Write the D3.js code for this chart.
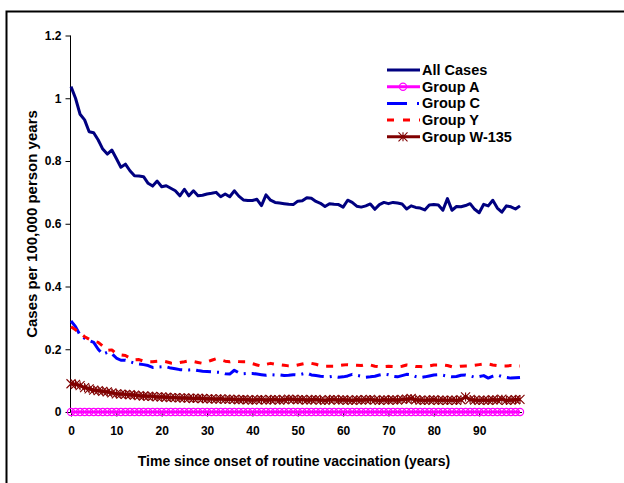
<!DOCTYPE html>
<html><head><meta charset="utf-8">
<script src="https://cdn.jsdelivr.net/npm/d3@7"></script>
<style>body{margin:0;background:#fff}svg{display:block}text{font-family:Arial,"Liberation Sans",sans-serif;font-weight:bold}</style>
</head><body>
<svg id="c" width="624" height="483"></svg>
<script>
const years = d3.range(0, 100);
const xTicks = [0,10,20,30,40,50,60,70,80,90];
const yTicks = [0,0.2,0.4,0.6,0.8,1,1.2];
const seriesNames = ["All Cases","Group A","Group C","Group Y","Group W-135"];
const allCases = [1.037,1.000,0.949,0.931,0.893,0.890,0.867,0.838,0.822,0.835,
0.808,0.780,0.790,0.769,0.753,0.752,0.750,0.729,0.720,0.736,
0.718,0.721,0.713,0.705,0.689,0.710,0.689,0.705,0.689,0.691,
0.695,0.697,0.700,0.686,0.695,0.686,0.705,0.688,0.676,0.674,
0.674,0.678,0.658,0.692,0.675,0.668,0.666,0.664,0.662,0.661,
0.672,0.673,0.683,0.681,0.671,0.665,0.655,0.664,0.662,0.661,
0.653,0.675,0.668,0.656,0.653,0.657,0.663,0.646,0.661,0.668,
0.664,0.668,0.666,0.663,0.647,0.657,0.652,0.650,0.644,0.660,
0.661,0.660,0.643,0.680,0.643,0.655,0.654,0.658,0.664,0.646,
0.635,0.662,0.657,0.675,0.650,0.637,0.657,0.654,0.647,0.657];
const groupA = [0,0,0,0,0,0,0,0,0,0,0,0,0,0,0,0,0,0,0,0,
0,0,0,0,0,0,0,0,0,0,0,0,0,0,0,0,0,0,0,0,
0,0,0,0,0,0,0,0,0,0,0,0,0,0,0,0,0,0,0,0,
0,0,0,0,0,0,0,0,0,0,0,0,0,0,0,0,0,0,0,0,
0,0,0,0,0,0,0,0,0,0,0,0,0,0,0,0,0,0,0,0];
const groupC = [0.290,0.272,0.245,0.235,0.228,0.222,0.200,0.184,0.190,0.186,
0.172,0.165,0.165,0.160,0.156,0.153,0.151,0.148,0.142,0.143,
0.144,0.144,0.140,0.138,0.135,0.134,0.134,0.135,0.132,0.130,
0.129,0.128,0.127,0.126,0.122,0.121,0.133,0.125,0.122,0.123,
0.123,0.121,0.119,0.117,0.119,0.118,0.118,0.116,0.117,0.119,
0.118,0.121,0.124,0.118,0.116,0.114,0.113,0.112,0.114,0.111,
0.112,0.115,0.120,0.117,0.114,0.111,0.112,0.114,0.118,0.121,
0.119,0.114,0.112,0.116,0.120,0.119,0.113,0.110,0.112,0.115,
0.118,0.119,0.117,0.114,0.112,0.113,0.117,0.118,0.115,0.111,
0.113,0.116,0.108,0.114,0.118,0.113,0.110,0.108,0.109,0.110];
const groupY = [0.272,0.262,0.252,0.240,0.232,0.226,0.222,0.210,0.196,0.198,
0.185,0.182,0.180,0.172,0.166,0.167,0.162,0.160,0.160,0.162,
0.163,0.160,0.156,0.155,0.158,0.160,0.163,0.161,0.158,0.155,
0.160,0.165,0.170,0.166,0.162,0.160,0.163,0.161,0.160,0.160,
0.154,0.150,0.146,0.152,0.155,0.152,0.151,0.149,0.147,0.147,
0.150,0.153,0.156,0.155,0.152,0.148,0.146,0.146,0.146,0.148,
0.150,0.151,0.150,0.149,0.148,0.151,0.150,0.146,0.144,0.145,
0.146,0.145,0.144,0.146,0.150,0.148,0.145,0.145,0.144,0.147,
0.150,0.150,0.150,0.148,0.144,0.144,0.146,0.147,0.147,0.149,
0.151,0.153,0.153,0.150,0.148,0.147,0.147,0.148,0.147,0.147];
const groupW = [0.090,0.088,0.084,0.078,0.074,0.070,0.068,0.066,0.064,0.061,
0.058,0.057,0.056,0.055,0.054,0.052,0.051,0.050,0.050,0.048,
0.048,0.047,0.046,0.046,0.045,0.045,0.044,0.043,0.044,0.043,
0.042,0.042,0.041,0.042,0.040,0.041,0.040,0.039,0.040,0.039,
0.038,0.039,0.040,0.038,0.039,0.040,0.038,0.039,0.041,0.040,
0.039,0.040,0.038,0.039,0.040,0.038,0.037,0.039,0.040,0.038,
0.039,0.038,0.037,0.039,0.038,0.039,0.040,0.038,0.037,0.039,
0.038,0.039,0.038,0.040,0.041,0.043,0.039,0.038,0.037,0.038,
0.039,0.037,0.038,0.037,0.038,0.037,0.039,0.048,0.040,0.038,
0.037,0.038,0.037,0.039,0.038,0.041,0.037,0.038,0.039,0.040];

const svg = d3.select("#c");
// outer frame (cropped)
svg.append("rect").attr("x",6.5).attr("y",11.5).attr("width",700).attr("height",600)
  .attr("fill","none").attr("stroke","#000").attr("stroke-width",2);

const x = d3.scaleLinear().domain([0,99]).range([71,520]);
const y = d3.scaleLinear().domain([0,1.2]).range([412,35.5]);

// y axis
const gy = svg.append("g").attr("transform","translate(70.5,0)")
  .call(d3.axisLeft(y).tickValues(yTicks).tickSize(5).tickPadding(4).tickFormat(d3.format("")));
gy.select(".domain").attr("stroke","#000").attr("d","M0,"+y(1.2)+"V"+y(0));
gy.selectAll("text").attr("font-size","12px").attr("fill","#000");
// x axis
const gx = svg.append("g").attr("transform","translate(0,412.5)")
  .call(d3.axisBottom(x).tickValues(xTicks).tickSize(4).tickPadding(10).tickFormat(d3.format("")));
gx.select(".domain").attr("d","M70.5,0H522");
gx.selectAll("text").attr("font-size","12px").attr("fill","#000");

svg.append("text").attr("transform","translate(37,224) rotate(-90)").attr("text-anchor","middle")
  .attr("font-size","15px").text("Cases per 100,000 person years");
svg.append("text").attr("x",294).attr("y",466).attr("text-anchor","middle")
  .attr("font-size","14px").text("Time since onset of routine vaccination (years)");

const line = d3.line().x((d,i)=>x(years[i])).y(d=>y(d));
const styles = [
  {data:allCases,color:"#000080",dash:null},
  {data:groupA,color:"#FF00FF",dash:null,marker:"circle"},
  {data:groupC,color:"#0000FF",dash:"15,6,2,6"},
  {data:groupY,color:"#FF0000",dash:"7,8"},
  {data:groupW,color:"#800000",dash:null,marker:"star"}
];
const starPath = s => `M${-s},${-s}L${s},${s}M${-s},${s}L${s},${-s}M0,${-s}L0,${s}`;
styles.forEach(st=>{
  svg.append("path").datum(st.data).attr("d",line).attr("fill","none")
    .attr("stroke",st.color).attr("stroke-width",3).attr("stroke-linejoin","round")
    .attr("stroke-dasharray",st.dash);
  if(st.marker==="circle"){
    svg.append("g").selectAll("circle").data(st.data).join("circle")
      .attr("cx",(d,i)=>x(years[i])).attr("cy",d=>y(d)).attr("r",3.6)
      .attr("fill","none").attr("stroke",st.color).attr("stroke-width",1.2);
  } else if(st.marker==="star"){
    svg.append("g").selectAll("path").data(st.data).join("path")
      .attr("transform",(d,i)=>`translate(${x(years[i])},${y(d)})`)
      .attr("d",starPath(4.5)).attr("stroke",st.color).attr("stroke-width",1.1).attr("fill","none");
  }
});

// legend
const lg = svg.append("g");
styles.forEach((st,i)=>{
  const ly = 70 + i*16.7;
  lg.append("line").attr("x1",387).attr("x2",420).attr("y1",ly).attr("y2",ly)
    .attr("stroke",st.color).attr("stroke-width",3).attr("stroke-dasharray",
      i===2?"20,10,2,10":(i===3?"7,9":null));
  if(st.marker==="circle") lg.append("circle").attr("cx",403).attr("cy",ly).attr("r",3.6)
      .attr("fill","none").attr("stroke",st.color).attr("stroke-width",1.2);
  if(st.marker==="star") lg.append("path").attr("transform",`translate(403,${ly})`)
      .attr("d",starPath(4.5)).attr("stroke",st.color).attr("stroke-width",1.1);
  lg.append("text").attr("x",422).attr("y",ly+5).attr("font-size","14.5px").text(seriesNames[i]);
});
</script>
</body></html>
